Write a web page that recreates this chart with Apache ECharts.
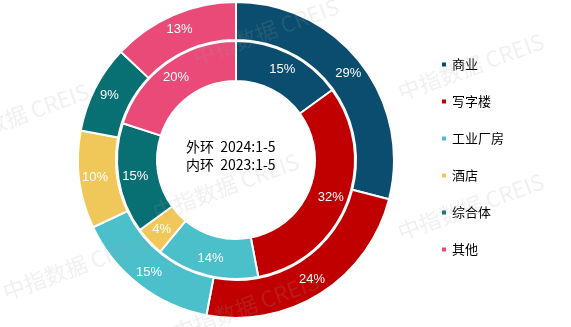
<!DOCTYPE html>
<html><head><meta charset="utf-8">
<script src="https://cdn.jsdelivr.net/npm/echarts@6/dist/echarts.min.js"></script>
<style>html,body{margin:0;padding:0;background:#fff}#c{width:571px;height:327px}</style>
</head><body><div id="c"></div>
<script>
const categories = ['商业','写字楼','工业厂房','酒店','综合体','其他'];
const outer2024 = [29,24,15,10,9,13];
const inner2023 = [15,32,14,4,15,20];
const colors = ['#0b4d6e','#c00000','#4bbfca','#f0c85a','#087072','#ea4a78'];
const centerLines = ['外环  2024:1-5','内环  2023:1-5'];
const watermark = '中指数据 CREIS';

const chart = echarts.init(document.getElementById('c'));
const mk = arr => arr.map((v,i)=>({name:categories[i], value:v}));
const wm = (x,y)=>({type:'text', left:x, top:y, rotation:Math.PI*20/180, silent:true, z:100,
  style:{text:watermark, fill:'rgba(160,160,160,0.16)', font:'22px "Noto Sans CJK SC", sans-serif'}});
const common = {
  type:'pie', center:[236,160], startAngle:90, clockwise:true, avoidLabelOverlap:false,
  itemStyle:{borderColor:'#fff', borderWidth:2},
  label:{show:true, position:'inside', color:'#fff', fontSize:13, fontFamily:'Arial, "Liberation Sans", sans-serif', formatter:'{c}%'},
  labelLine:{show:false}, emphasis:{disabled:true}
};
chart.setOption({
  animation:false,
  color:colors,
  legend:{orient:'vertical', left:435, top:53, itemWidth:6, itemHeight:6, itemGap:24, icon:'rect',
    textStyle:{fontSize:13, color:'#000', fontFamily:'"Noto Sans CJK SC", sans-serif'}, data:categories},
  graphic:[
    {type:'text', left:186, top:138, style:{text:centerLines.join('\n'), fill:'#000', font:'14px "Noto Sans CJK SC", sans-serif', lineHeight:18}},
    wm(190,-5), wm(150,150), wm(395,30), wm(395,170), wm(0,230), wm(170,270), wm(-60,80)
  ],
  series:[
    Object.assign({}, common, {name:'2024', radius:[120,158], data:mk(outer2024)}),
    Object.assign({}, common, {name:'2023', radius:[79,119], data:mk(inner2023)})
  ]
});
</script></body></html>
